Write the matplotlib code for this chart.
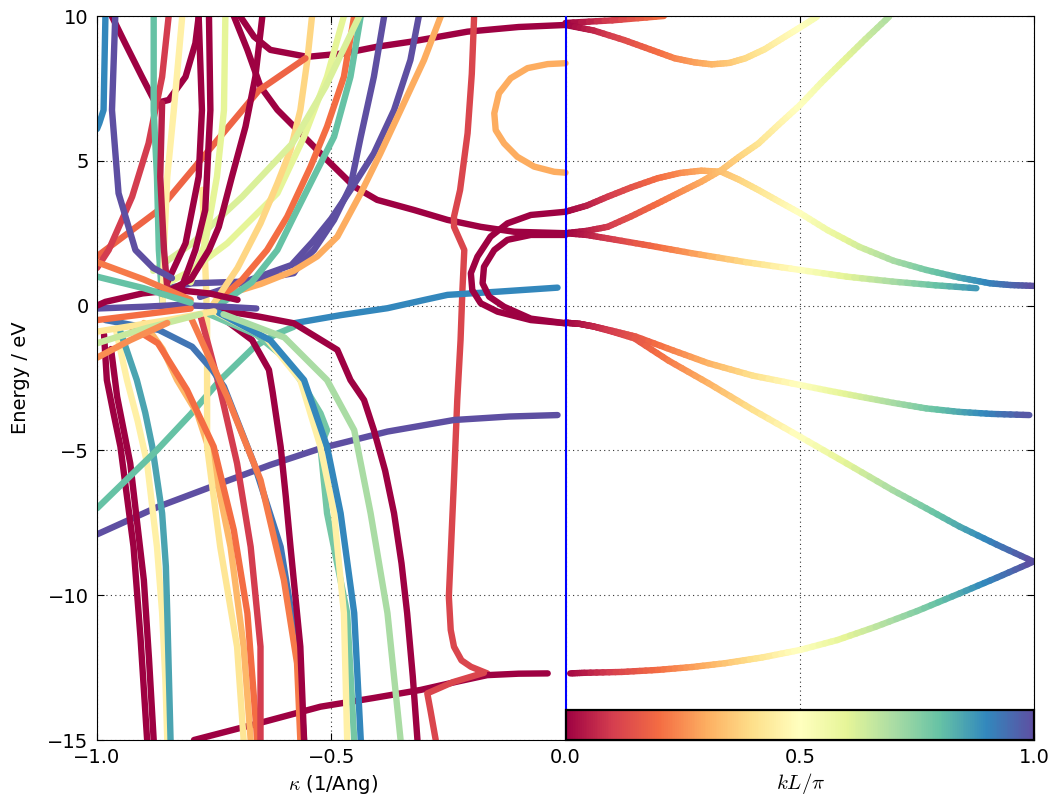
import numpy as np
import matplotlib
matplotlib.use('Agg')
import matplotlib.pyplot as plt
from matplotlib.collections import LineCollection

# ---- data --------------------------------------------------------------
# left half: complex bands, kappa (1/Ang) vs energy, one colour value per branch
left_k = [
    [-0.708, -0.679, -0.651, -0.615, -0.551, -0.509, -0.451, -0.402, -0.323, -0.252, -0.181, -0.110, 0.0],
    [-0.70, -0.694, -0.665, -0.630, -0.551, -0.473, -0.402, -0.331, -0.209, -0.10, 0.0],
    [-0.97, -0.968, -0.940, -0.904, -0.875, -0.847, -0.811, -0.790, -0.783, -0.782],
    [0.0, -0.038, -0.081, -0.117, -0.142, -0.152, -0.149, -0.131, -0.103, -0.067, -0.024, 0.0],
    [-0.195, -0.200, -0.209, -0.225, -0.238, -0.238, -0.216, -0.22, -0.224, -0.231, -0.238, -0.249,
     -0.245, -0.238, -0.222, -0.202, -0.167],
    [-0.793, -0.65, -0.523, -0.41, -0.309, -0.23, -0.167, -0.1, -0.038],
    [-0.174, -0.24, -0.295, -0.288, -0.277],
    [-0.58, -0.48, -0.38, -0.30, -0.252, -0.145, -0.017],
    [-1.0, -0.87, -0.737, -0.63, -0.523, -0.38, -0.238, -0.12, -0.017],
    [0.0, -0.074, -0.124, -0.160, -0.188, -0.202, -0.199, -0.181, -0.145, -0.074, 0.0],
    [0.0, -0.074, -0.124, -0.152, -0.174, -0.177, -0.163, -0.131, -0.074, 0.0],
    [-0.985, -0.979, -0.965, -0.95, -0.936, -0.922, -0.907, -0.893],
    [-0.97, -0.957, -0.943, -0.929, -0.915, -0.9, -0.889, -0.879],
    [-0.96, -0.936, -0.913, -0.893, -0.872, -0.861, -0.854, -0.85],
    [-0.95, -0.915, -0.897, -0.882, -0.861, -0.853, -0.85, -0.843],
    [-1.0, -0.93, -0.872, -0.80, -0.737, -0.664, -0.62, -0.58],
    [-0.9, -0.86, -0.829, -0.786, -0.751, -0.715, -0.687, -0.672],
    [-0.775, -0.771, -0.767, -0.765, -0.765, -0.765, -0.737, -0.701, -0.687],
    [-0.93, -0.87, -0.808, -0.751, -0.708, -0.679, -0.658],
    [-0.78, -0.76, -0.737, -0.701, -0.672, -0.651, -0.651],
    [-0.982, -0.868, -0.797, -0.754, -0.729, -0.665, -0.608, -0.573, -0.558],
    [-0.8, -0.722, -0.651, -0.601, -0.573, -0.566],
    [-0.740, -0.654, -0.58, -0.487, -0.459, -0.43, -0.409, -0.385, -0.366, -0.35, -0.338, -0.326, -0.316],
    [-0.726, -0.669, -0.633, -0.625, -0.608, -0.597, -0.587, -0.566, -0.558],
    [-0.76, -0.66, -0.6, -0.566, -0.523, -0.509, -0.523, -0.509, -0.466, -0.451],
    [-0.75, -0.64, -0.566, -0.523, -0.494, -0.473, -0.466],
    [-0.74, -0.63, -0.558, -0.509, -0.48, -0.451, -0.437],
    [-0.73, -0.6, -0.509, -0.451, -0.416, -0.38, -0.352],
    [-0.387, -0.409, -0.437, -0.459, -0.494, -0.537, -0.566, -0.58, -0.683, -0.797, -0.85],
    [-0.313, -0.331, -0.366, -0.409, -0.459, -0.50, -0.54, -0.585, -0.68, -0.78],
    [-0.266, -0.302, -0.345, -0.395, -0.437, -0.487, -0.53, -0.58, -0.65, -0.74],
    [-0.451, -0.473, -0.509, -0.544, -0.594, -0.637, -0.69, -0.76],
    [-0.437, -0.459, -0.494, -0.530, -0.580, -0.615, -0.67, -0.75],
    [-0.473, -0.509, -0.558, -0.615, -0.722, -0.80, -0.87],
    [-0.541, -0.551, -0.566, -0.587, -0.615, -0.651, -0.70, -0.76],
    [-0.555, -0.654, -0.761, -0.868, -0.982, -1.0],
    [-0.44, -0.512, -0.583, -0.690, -0.797, -0.88],
    [-0.847, -0.861, -0.890, -0.925, -0.975, -1.0],
    [-0.879, -0.879, -0.872, -0.868, -0.86],
    [-0.818, -0.836, -0.850, -0.857, -0.86],
    [-0.726, -0.729, -0.744, -0.769, -0.80],
    [-0.783, -0.776, -0.783, -0.811, -0.85],
    [-0.761, -0.758, -0.769, -0.790, -0.82],
    [-0.861, -0.865, -0.857, -0.85],
    [-0.647, -0.662, -0.683, -0.712, -0.740, -0.761, -0.80, -0.86],
    [-0.961, -0.968, -0.954, -0.918, -0.88, -0.84],
    [-0.982, -0.986, -0.995, -1.0],
    [-1.0, -0.9, -0.827, -0.73, -0.66],
    [-1.0, -0.982, -0.903, -0.833, -0.76, -0.7],
    [-1.0, -0.9, -0.8],
    [-1.0, -0.85, -0.75],
    [-1.0, -0.9, -0.78],
    [-1.0, -0.9, -0.8],
    [-1.0, -0.9, -0.8],
    [-1.0, -0.93, -0.85],
]
left_E = [
    [10.0, 8.83, 7.56, 6.76, 5.72, 5.03, 4.11, 3.65, 3.30, 2.96, 2.72, 2.55, 2.50],
    [10.2, 9.98, 9.29, 8.83, 8.59, 8.71, 8.94, 9.11, 9.46, 9.62, 9.69],
    [10.2, 9.98, 9.06, 7.90, 6.99, 7.10, 7.90, 9.06, 9.98, 10.2],
    [8.37, 8.34, 8.20, 7.85, 7.33, 6.64, 6.06, 5.60, 5.14, 4.80, 4.62, 4.59],
    [10.0, 8.0, 5.95, 3.99, 3.07, 2.72, 1.92, 0.54, -1.19, -3.25, -6.02, -10.05,
     -11.2, -11.78, -12.25, -12.47, -12.70],
    [-15.0, -14.4, -13.85, -13.55, -13.27, -12.98, -12.76, -12.71, -12.70],
    [-12.68, -13.0, -13.39, -14.0, -15.0],
    [-0.61, -0.33, -0.09, 0.2, 0.37, 0.48, 0.62],
    [-7.9, -6.95, -6.14, -5.5, -4.93, -4.35, -3.95, -3.83, -3.78],
    [3.24, 3.13, 2.84, 2.38, 1.69, 1.12, 0.54, 0.08, -0.21, -0.50, -0.61],
    [2.44, 2.44, 2.27, 1.92, 1.34, 0.77, 0.31, -0.04, -0.45, -0.61],
    [-1.0, -2.57, -3.7, -4.87, -6.6, -8.33, -11.5, -15.0],
    [-1.5, -3.15, -4.3, -5.45, -7.4, -9.48, -12.2, -15.0],
    [-0.8, -2.57, -4.0, -5.45, -8.33, -10.6, -12.93, -15.0],
    [-0.9, -2.57, -3.7, -4.87, -7.17, -9.0, -10.62, -15.0],
    [-7.0, -5.9, -4.99, -3.75, -2.57, -1.42, -1.0, -0.73],
    [-0.6, -1.5, -2.57, -3.72, -5.45, -8.33, -11.78, -15.0],
    [4.0, 2.27, 0.54, -0.6, -2.22, -4.87, -8.33, -11.78, -15.0],
    [-0.7, -1.3, -2.91, -4.87, -7.75, -10.62, -15.0],
    [-0.3, -1.5, -2.91, -5.45, -8.33, -11.78, -15.0],
    [-0.5, -0.84, -1.42, -2.22, -2.80, -5.45, -8.33, -11.78, -15.0],
    [-0.4, -3.15, -6.02, -9.48, -12.35, -15.0],
    [-0.15, -0.38, -0.61, -1.53, -2.57, -3.26, -4.30, -5.7, -7.17, -8.9, -10.62, -12.8, -15.0],
    [-0.5, -1.19, -2.22, -3.0, -4.87, -6.6, -8.33, -11.78, -15.0],
    [-0.3, -1.0, -1.8, -2.57, -3.72, -4.30, -4.87, -7.17, -10.62, -15.0],
    [-0.2, -1.1, -2.57, -4.87, -7.17, -10.62, -15.0],
    [-0.25, -1.2, -2.57, -4.87, -7.17, -10.62, -15.0],
    [-0.3, -1.1, -2.57, -4.30, -7.17, -10.62, -15.0],
    [10.0, 7.9, 5.83, 4.11, 2.96, 1.92, 1.46, 1.12, 0.83, 0.77, 0.6],
    [10.0, 8.48, 6.75, 5.26, 3.99, 3.0, 2.2, 1.4, 0.85, 0.3],
    [10.0, 8.48, 6.99, 5.26, 3.88, 2.38, 1.7, 1.2, 0.75, 0.3],
    [10.0, 7.9, 6.18, 4.80, 3.07, 1.92, 0.9, -0.1],
    [10.0, 7.9, 5.83, 4.68, 3.07, 1.92, 0.8, -0.1],
    [10.0, 7.90, 5.83, 3.88, 2.15, 1.2, 0.6],
    [10.0, 8.48, 6.75, 5.37, 4.22, 2.84, 1.3, -0.15],
    [8.54, 7.44, 5.37, 3.30, 1.92, 1.7],
    [10.0, 7.56, 5.60, 3.76, 2.15, 1.2],
    [10.0, 7.9, 5.6, 3.76, 1.92, 1.3],
    [10.0, 6.75, 4.45, 1.92, 0.0],
    [10.0, 6.75, 4.45, 1.92, 0.0],
    [10.0, 6.75, 4.45, 2.15, 0.8],
    [10.0, 6.75, 4.45, 2.15, 0.8],
    [10.0, 6.75, 3.30, 1.92, 0.6],
    [6.99, 4.45, 1.92, 0.6],
    [10.0, 7.9, 6.18, 4.45, 2.72, 1.92, 0.9, 0.4],
    [10.0, 6.75, 3.88, 1.92, 1.3, 0.95],
    [10.0, 6.75, 6.3, 6.1],
    [-0.1, -0.04, 0.02, -0.04, -0.1],
    [0.0, 0.13, 0.42, 0.54, 0.42, 0.2],
    [-0.5, -0.3, -0.1],
    [-0.9, -0.5, -0.2],
    [-1.3, -0.8, -0.3],
    [1.5, 0.9, 0.2],
    [1.0, 0.6, 0.1],
    [-1.8, -1.2, -0.6],
]
left_c = [0.0, 0.0, 0.0, 0.3, 0.12, 0.0, 0.12, 0.9, 1.0, 0.0,
          0.0, 0.0, 0.0, 0.45, 0.85, 0.8, 0.32, 0.42, 0.2, 0.1,
          0.93, 0.22, 0.0, 0.0, 0.78, 0.45, 0.9, 0.7, 1.0, 1.0,
          0.3, 0.2, 0.8, 0.6, 0.38, 0.18, 0.62, 0.1, 0.8, 0.45,
          0.6, 0.0, 0.0, 0.05, 0.0, 1.0, 0.9, 1.0, 0.0, 0.2,
          0.42, 0.65, 0.22, 0.8, 0.25]

# right half: real bands, kL/pi vs energy (colour = kL/pi)
right_k = [
    [0.0, 0.1, 0.21],
    [0.0, 0.06, 0.125, 0.18, 0.233, 0.275, 0.312, 0.35, 0.384, 0.425, 0.469, 0.505, 0.537],
    [0.0, 0.045, 0.09, 0.14, 0.197, 0.245, 0.29, 0.333, 0.37, 0.412, 0.455, 0.501, 0.56,
     0.627, 0.70, 0.77, 0.84, 0.906, 0.95, 1.0],
    [0.0, 0.045, 0.09, 0.14, 0.197, 0.245, 0.29, 0.333, 0.37, 0.412, 0.455, 0.501, 0.545,
     0.591, 0.64, 0.691],
    [0.0, 0.045, 0.09, 0.18, 0.269, 0.385, 0.501, 0.6, 0.698, 0.79, 0.877],
    [0.0, 0.03, 0.06, 0.1, 0.15, 0.23, 0.305, 0.4, 0.5, 0.565, 0.63, 0.7, 0.77, 0.84, 0.91, 0.99],
    [0.0, 0.03, 0.06, 0.1, 0.147, 0.22, 0.305, 0.4, 0.501, 0.6, 0.698, 0.77, 0.841, 0.92, 0.999],
    [0.01, 0.04, 0.12, 0.197, 0.27, 0.34, 0.42, 0.501, 0.58, 0.662, 0.75, 0.841, 0.92, 0.999],
]
right_E = [
    [9.76, 9.85, 10.0],
    [9.69, 9.5, 9.17, 8.85, 8.54, 8.40, 8.33, 8.38, 8.54, 8.85, 9.29, 9.65, 9.98],
    [3.24, 3.45, 3.76, 4.08, 4.40, 4.58, 4.66, 4.62, 4.35, 3.99, 3.60, 3.19, 2.60,
     2.03, 1.55, 1.23, 0.97, 0.77, 0.71, 0.68],
    [2.50, 2.58, 2.72, 3.08, 3.53, 3.92, 4.28, 4.68, 5.13, 5.60, 6.25, 6.93, 7.68,
     8.42, 9.20, 9.98],
    [2.5, 2.44, 2.32, 2.07, 1.81, 1.50, 1.23, 1.00, 0.83, 0.70, 0.60],
    [-0.59, -0.63, -0.72, -0.87, -1.07, -1.55, -1.99, -2.42, -2.74, -2.95, -3.15, -3.36,
     -3.55, -3.67, -3.74, -3.78],
    [-0.59, -0.63, -0.72, -0.9, -1.13, -1.9, -2.68, -3.6, -4.53, -5.45, -6.37, -7.0,
     -7.63, -8.25, -8.84],
    [-12.70, -12.68, -12.65, -12.58, -12.48, -12.35, -12.15, -11.89, -11.55, -11.09,
     -10.55, -9.94, -9.40, -8.84],
]

xticks = [-1.0, -0.5, 0.0, 0.5, 1.0]
xticklabels = ['\u22121.0', '\u22120.5', '0.0', '0.5', '1.0']
yticks = [-15, -10, -5, 0, 5, 10]

# ---- plot --------------------------------------------------------------
plt.rcParams['font.family'] = ['DejaVu Sans']
plt.rcParams['mathtext.fontset'] = 'cm'
plt.rcParams['xtick.direction'] = 'in'
plt.rcParams['ytick.direction'] = 'in'
plt.rcParams['xtick.top'] = True
plt.rcParams['ytick.right'] = True

cmap = plt.get_cmap('Spectral')
lw = 4.6

fig = plt.figure(figsize=(10.57, 7.98), dpi=100)
ax = fig.add_axes([97/1057, 1-740/798, (1034-97)/1057, (740-16)/798])

for k, e, c in zip(left_k, left_E, left_c):
    ax.plot(k, e, color=cmap(c), lw=lw, solid_capstyle='round',
            solid_joinstyle='round', zorder=2)

# right bands coloured along kL/pi; each straight piece split so the colour runs smoothly
for k, e in zip(right_k, right_E):
    k = np.asarray(k)
    e = np.asarray(e)
    segs = []
    cols = []
    for i in range(len(k) - 1):
        t = np.linspace(0, 1, 7)
        xs = k[i] + (k[i+1] - k[i]) * t
        ys = e[i] + (e[i+1] - e[i]) * t
        for j in range(len(t) - 1):
            segs.append([(xs[j], ys[j]), (xs[j+1], ys[j+1])])
            cols.append(0.5 * (xs[j] + xs[j+1]))
    lc = LineCollection(segs, cmap=cmap, norm=plt.Normalize(0, 1),
                        linewidths=lw, capstyle='round', zorder=2)
    lc.set_array(np.array(cols))
    ax.add_collection(lc)

ax.axvline(0, color='b', lw=1.5, zorder=4)

ax.set_xlim(-1, 1)
ax.set_ylim(-15, 10)
ax.set_xticks(xticks)
ax.set_xticklabels(xticklabels)
ax.set_yticks(yticks)
ax.tick_params(labelsize=14, length=5, width=0.8, pad=6)
ax.grid(True, color='k', linestyle=(0, (1, 3)), linewidth=0.8, alpha=0.8)
ax.set_axisbelow(True)
ax.set_ylabel('Energy / eV', fontsize=14)
ax.yaxis.set_label_coords(-0.071, 0.5)

fig.text(333/1057, 1-784/798, r'$\kappa$ (1/Ang)', fontsize=14, ha='center', va='center')
fig.text(801/1057, 1-784/798, r'$kL/\pi$', fontsize=15, ha='center', va='center')

# colour bar strip sitting in the lower right corner of the plot
cax = ax.inset_axes([0, -15, 1, 1.04], transform=ax.transData)
sm = plt.cm.ScalarMappable(cmap=cmap, norm=plt.Normalize(0, 1))
cb = fig.colorbar(sm, cax=cax, orientation='horizontal')
cb.set_ticks([])
cb.outline.set_linewidth(1.6)

fig.savefig('out.png', dpi=100)
